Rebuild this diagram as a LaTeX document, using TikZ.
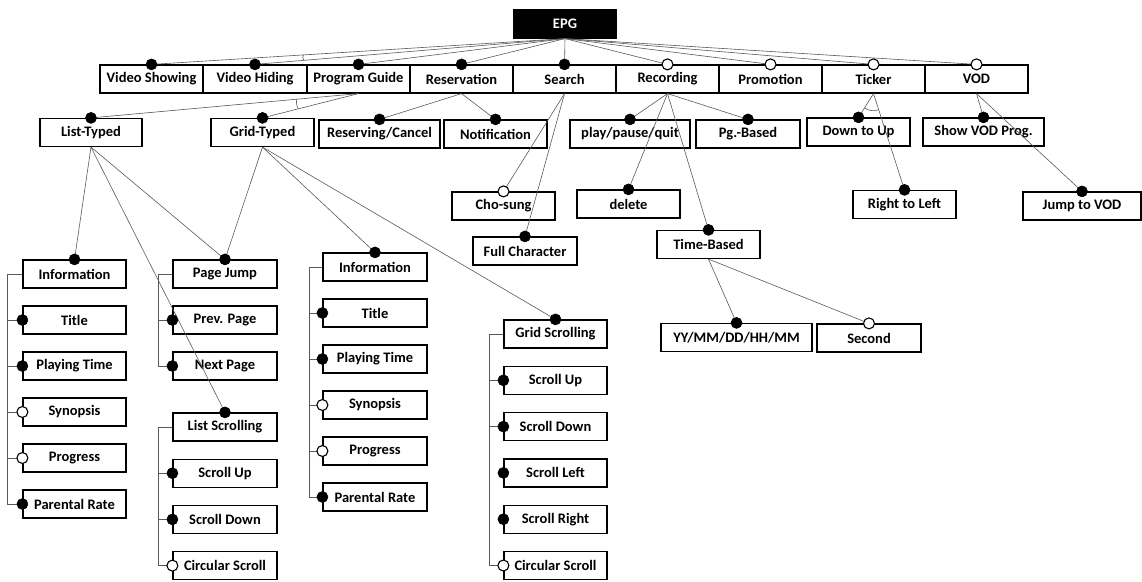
\documentclass[tikz,border=0pt]{standalone}
\usepackage{fontspec}
\setmainfont{Carlito}
\usetikzlibrary{calc}

\tikzset{
  feat/.style={draw, line width=1.2pt, fill=white, inner sep=0pt,
    minimum width=103pt, minimum height=28pt,
    font=\fontsize{14.5}{16}\selectfont\bfseries},
  root/.style={feat, fill=black, text=white},
  conn/.style={draw=black!65, line width=0.6pt},
  mand/.style={draw=black, fill=black, line width=0.6pt},
  opt/.style={draw=black, fill=white, line width=1.1pt},
}

\begin{document}
\begin{tikzpicture}[x=1pt, y=-1pt]
  \useasboundingbox (0,0) rectangle (1142,581);

  % root and first level
  \node[root] (epg) at (565,24) {EPG};
  \foreach \t/\n/\x in {Video Showing/vs/151.5, Video Hiding/vh/255,
      Program Guide/pg/358.5, Reservation/res/461.5, Search/srch/564.5,
      Recording/rec/667.5, Promotion/promo/770.5, Ticker/tick/873.5,
      VOD/vod/976.5} {
    \node[feat] (\n) at (\x,79) {\t};
  }

  % second level
  \node[feat, minimum width=102pt] (lt) at (91,132.5) {List-Typed};
  \node[feat] (gt) at (262.5,132.5) {Grid-Typed};
  \node[feat, minimum width=121pt] (rc) at (379.5,134) {Reserving/Cancel};
  \node[feat] (noti) at (495.5,134) {Notification};
  \node[feat, minimum width=120pt] (ppq) at (630,134) {play/pause/quit};
  \node[feat, minimum width=104pt] (pgb) at (748,134) {Pg.-Based};
  \node[feat] (dtu) at (858.5,132) {Down to Up};
  \node[feat, minimum width=121pt] (svp) at (983.5,132) {Show VOD Prog.};

  % third level
  \node[feat] (cho) at (503.5,206) {Cho-sung};
  \node[feat, minimum width=104pt] (fc) at (525,251) {Full Character};
  \node[feat] (del) at (628.5,204) {delete};
  \node[feat] (tb) at (708.5,244.5) {Time-Based};
  \node[feat] (rtl) at (904.5,204.5) {Right to Left};
  \node[feat, minimum width=118pt] (jv) at (1082,206) {Jump to VOD};
  \node[feat, minimum width=151pt] (yy) at (736.5,337.5) {YY/MM/DD/HH/MM};
  \node[feat, minimum width=104pt] (sec) at (869,338) {Second};

  % columns
  \foreach \t [count=\i] in {Information, Title, Playing Time, Synopsis,
      Progress, Parental Rate} {
    \node[feat] (li\i) at (74.5,{274+46*(\i-1)}) {\t};
    \node[feat, minimum width=104pt] (gi\i) at (375,{267+46*(\i-1)}) {\t};
  }
  \foreach \t [count=\i] in {Page Jump, Prev. Page, Next Page}
    \node[feat, minimum width=104pt] (pj\i) at (225,{274+46*(\i-1)}) {\t};
  \foreach \t [count=\i] in {List Scrolling, Scroll Up, Scroll Down,
      Circular Scroll}
    \node[feat, minimum width=104pt] (ls\i) at (225,{427+46.2*(\i-1)}) {\t};
  \foreach \t [count=\i] in {Grid Scrolling, Scroll Up, Scroll Down,
      Scroll Left, Scroll Right, Circular Scroll}
    \node[feat] (gs\i) at (555.5,{334+46.3*(\i-1)}) {\t};

  % connectors
  \foreach \n in {vs,vh,pg,res,srch,rec,promo,tick,vod}
    \draw[conn] (epg.south) -- (\n.north);
  \foreach \a/\b in {pg/lt, pg/gt, res/rc, res/noti, srch/cho, srch/fc,
      rec/ppq, rec/del, rec/tb, rec/pgb, tick/dtu, tick/rtl, vod/svp,
      vod/jv, tb/yy, tb/sec, lt/li1, lt/pj1, lt/ls1, gt/pj1, gt/gi1, gt/gs1}
    \draw[conn] (\a.south) -- (\b.north);

  % group arcs
  \draw[conn] ($(epg.south)!262pt!(vs.north)$) to[bend right=40]
    ($(epg.south)!262pt!(vh.north)$);
  \draw[conn] ($(pg.south)!62pt!(lt.north)$) to[bend right=20]
    ($(pg.south)!62pt!(gt.north)$);
  \draw[conn] ($(tick.south)!17pt!(dtu.north)$) to[bend right=24]
    ($(tick.south)!17pt!(rtl.north)$);

  % brackets
  \draw[conn] (li1.west) -- ++(-15,0) |- (li6.west);
  \draw[conn] (gi1.west) -- ++(-13,0) |- (gi6.west);
  \draw[conn] (pj1.west) -- ++(-14,0) |- (pj3.west);
  \draw[conn] (ls1.west) -- ++(-14,0) |- (ls4.west);
  \draw[conn] (gs1.west) -- ++(-14,0) |- (gs6.west);
  \foreach \i in {2,...,5} {
    \draw[conn] (li\i.west) -- ++(-15,0);
    \draw[conn] (gi\i.west) -- ++(-13,0);
  }
  \draw[conn] (pj2.west) -- ++(-14,0);
  \foreach \i in {2,3}
    \draw[conn] (ls\i.west) -- ++(-14,0);
  \foreach \i in {2,3}
    \draw[conn] (gs\i.west) -- ++(-14,0);

  % dots
  \foreach \n/\k in {vs/mand, vh/mand, pg/mand, res/mand, srch/mand,
      rec/opt, promo/opt, tick/opt, vod/opt, lt/mand, gt/mand, rc/mand,
      noti/mand, ppq/mand, pgb/mand, dtu/mand, svp/mand, cho/opt, fc/mand,
      del/mand, tb/mand, rtl/mand, jv/mand, yy/mand, sec/opt, li1/mand,
      gi1/mand, pj1/mand, ls1/mand, gs1/mand}
    \draw[\k] (\n.north) circle (5.5pt);
  \foreach \n/\k in {li2/mand, li3/mand, li4/opt, li5/opt, li6/mand,
      gi2/mand, gi3/mand, gi4/opt, gi5/opt, gi6/mand, pj2/mand, pj3/mand,
      ls2/mand, ls3/mand, ls4/opt, gs2/mand, gs3/mand, gs4/mand, gs5/mand,
      gs6/opt}
    \draw[\k] (\n.west) circle (5.5pt);
\end{tikzpicture}
\end{document}
